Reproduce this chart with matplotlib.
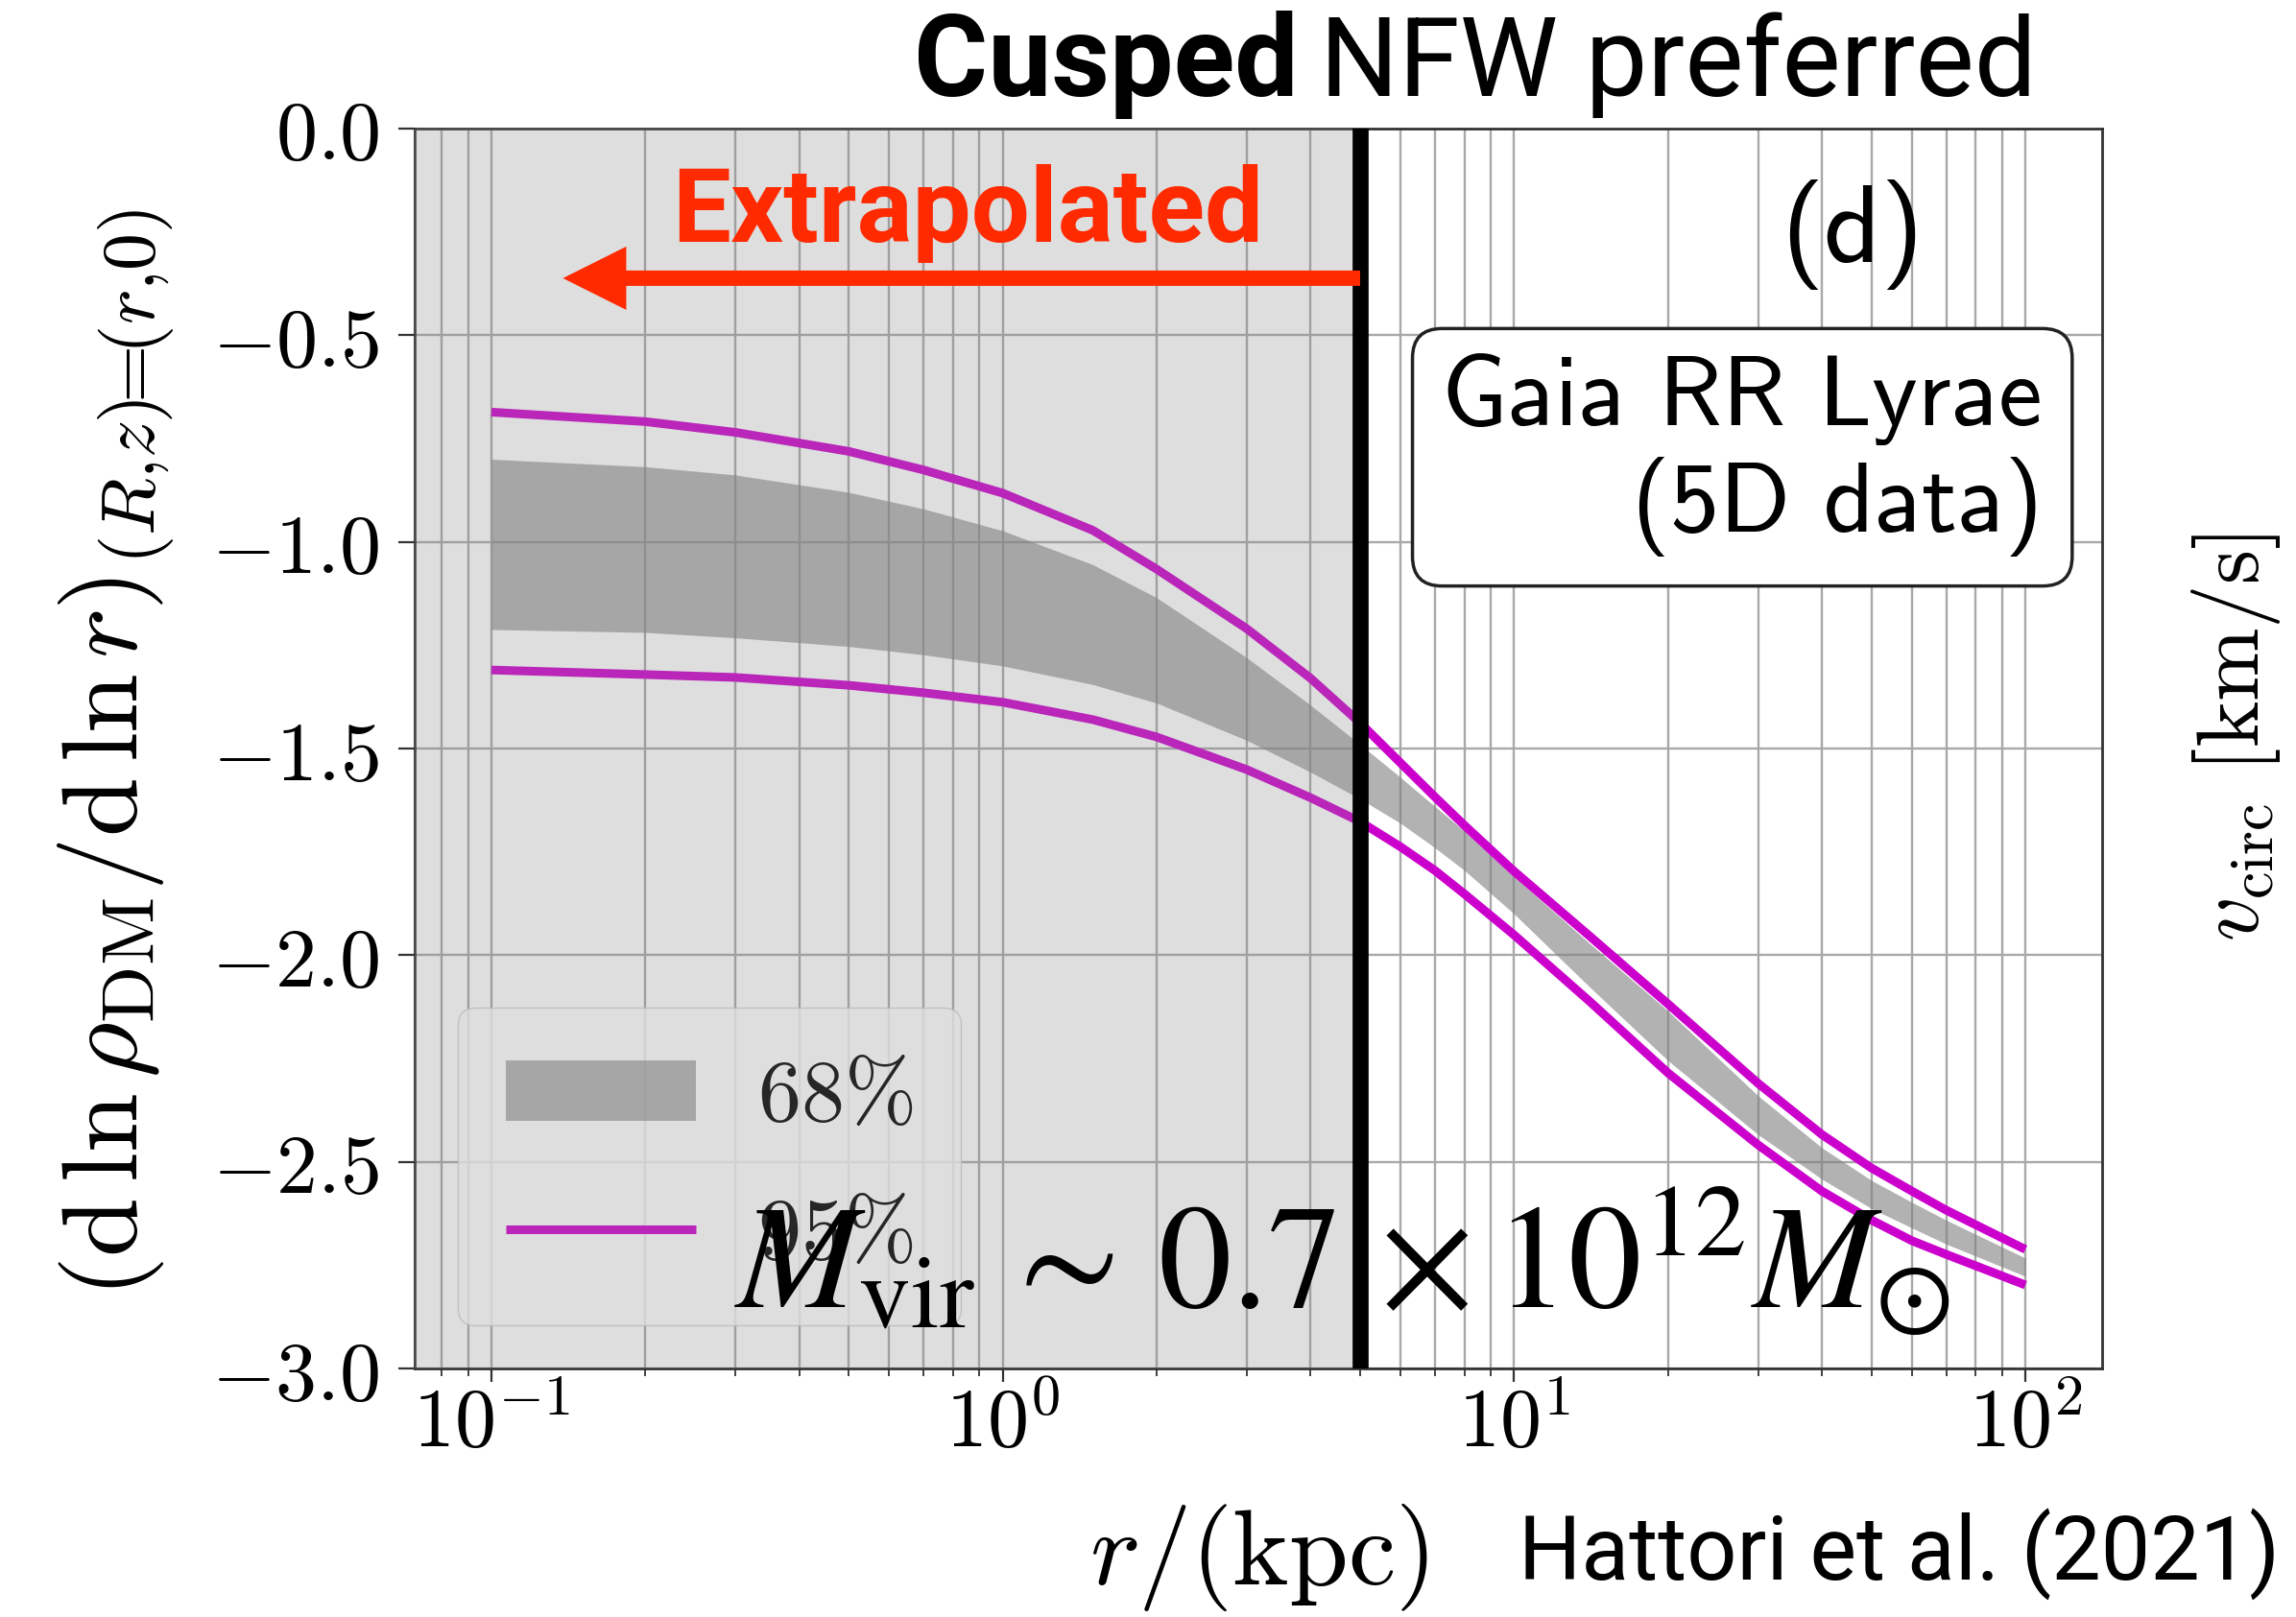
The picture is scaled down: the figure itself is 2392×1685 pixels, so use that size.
import matplotlib
matplotlib.use("Agg")
import matplotlib.pyplot as plt
import numpy as np
from matplotlib.ticker import FixedLocator, NullFormatter

# ---------------- data ----------------
r_kpc = [0.1, 0.2, 0.3, 0.5, 0.7, 1.0, 1.5, 2, 3, 4, 5, 6, 7, 8, 10, 14, 20, 30, 40, 50, 60, 70, 100]
upper95 = [-0.686, -0.709, -0.735, -0.781, -0.826, -0.882, -0.972, -1.066, -1.210, -1.330, -1.438,
           -1.535, -1.617, -1.686, -1.797, -1.952, -2.118, -2.310, -2.434, -2.515, -2.571, -2.617, -2.712]
lower95 = [-1.310, -1.321, -1.328, -1.347, -1.365, -1.388, -1.430, -1.472, -1.551, -1.619, -1.677,
           -1.738, -1.795, -1.852, -1.951, -2.110, -2.285, -2.459, -2.571, -2.641, -2.691, -2.724, -2.798]
upper68 = [-0.800, -0.818, -0.838, -0.880, -0.920, -0.973, -1.055, -1.135, -1.280, -1.395, -1.490,
           -1.570, -1.640, -1.700, -1.810, -1.970, -2.135, -2.340, -2.466, -2.545, -2.598, -2.641, -2.733]
lower68 = [-1.212, -1.219, -1.232, -1.253, -1.273, -1.300, -1.345, -1.390, -1.480, -1.557, -1.622,
           -1.681, -1.740, -1.795, -1.900, -2.075, -2.255, -2.434, -2.542, -2.613, -2.660, -2.699, -2.777]
legend_labels = ["68%", "95%"]
r_boundary = 5.0
yticks = [0.0, -0.5, -1.0, -1.5, -2.0, -2.5, -3.0]
ytick_labels = ["0.0", "-0.5", "-1.0", "-1.5", "-2.0", "-2.5", "-3.0"]
xticks = [0.1, 1, 10, 100]
xtick_labels = ["10^{-1}", "10^{0}", "10^{1}", "10^{2}"]
arrow_tip_r = 0.138
arrow_y = -0.362

W, H = 2392, 1685
plt.rcParams["mathtext.fontset"] = "cm"

fig = plt.figure(figsize=(W / 100, H / 100), dpi=100)


def fx(px):
    return px / W


def fy(py):
    return 1 - py / H


ax = fig.add_axes([fx(432), fy(1426), fx(2190) - fx(432), fy(134) - fy(1426)])
ax.set_xscale("log")
ax.set_axisbelow(True)

MAG = "#cc00cc"
# band and lines
band = ax.fill_between(r_kpc, lower68, upper68, color="gray", alpha=0.6, lw=0,
                       label="$" + legend_labels[0].replace("%", r"\%") + "$", zorder=2)
ax.plot(r_kpc, upper95, color=MAG, lw=6.5, zorder=3, solid_capstyle="butt",
        solid_joinstyle="round", label="$" + legend_labels[1].replace("%", r"\%") + "$")
ax.plot(r_kpc, lower95, color=MAG, lw=6.5, zorder=3, solid_capstyle="butt",
        solid_joinstyle="round")

xlo = r_kpc[0] / 10 ** 0.15
xhi = r_kpc[-1] * 10 ** 0.15
ax.set_xlim(xlo, xhi)
ax.set_ylim(yticks[-1], yticks[0])

# grid
ax.grid(True, which="both", axis="x", color="#a8a8a8", lw=1.7)
ax.grid(True, which="major", axis="y", color="#a8a8a8", lw=1.7)

# ticks
ax.yaxis.set_major_locator(FixedLocator(yticks))
ax.set_yticklabels(["$" + s + "$" for s in ytick_labels])
ax.xaxis.set_major_locator(FixedLocator(xticks))
ax.set_xticklabels(["$" + s + "$" for s in xtick_labels])
ax.xaxis.set_minor_formatter(NullFormatter())
ax.tick_params(axis="both", which="major", labelsize=62, direction="out", width=1.6, color="#333333")
ax.tick_params(axis="y", which="major", length=12, pad=14)
ax.tick_params(axis="x", which="major", length=10, pad=2)
ax.tick_params(axis="x", which="minor", length=6, width=1.3, color="#333333", direction="out")
for sp in ax.spines.values():
    sp.set_color("#333333")
    sp.set_linewidth(2.0)

# legend
leg = ax.legend(loc="lower left", fontsize=65, framealpha=0.8, handlelength=2.2,
                labelspacing=0.62, borderpad=0.55, handletextpad=0.7)
leg.set_zorder(5)

# extrapolated overlay
ax.axvspan(xlo, r_boundary, color="#8a8a8a", alpha=0.28, lw=0, zorder=6)
ax.axvline(r_boundary, color="black", lw=12, zorder=7)

# arrow
ax.annotate("", xy=(arrow_tip_r, arrow_y), xytext=(r_boundary, arrow_y),
            arrowprops=dict(arrowstyle="simple,head_length=0.66,head_width=0.66,tail_width=0.16",
                            mutation_scale=72, color="#ff2a00", lw=0, shrinkA=0, shrinkB=0),
            zorder=8)
fig.text(fx(700), fy(252), "Extrapolated", color="#ff2a00", fontsize=78, fontweight="bold",
         family="Roboto", ha="left", va="baseline", zorder=10)

# annotations
fig.text(fx(1930), fy(245), "(d)", family="cmss10", fontsize=83, ha="center", va="center")
fig.text(fx(2128), fy(474), "Gaia RR Lyrae\n(5D data)", family="cmss10", fontsize=74,
         ha="right", va="center", multialignment="right", linespacing=1.15,
         bbox=dict(boxstyle="round,pad=0.3", fc="white", ec="#222222", lw=2.5))

fig.text(fx(765), fy(1363), r"$M_{\rm vir}\,\sim\,0.7\,\times 10^{12}M_{\odot}$",
         math_fontfamily="stix", fontsize=110, ha="left", va="baseline", zorder=20)

# axis labels
fig.text(fx(185), fy(785),
         r"$\left(\mathrm{d}\,\ln\rho_{\rm DM}/\mathrm{d}\,\ln r\right)_{(R{,}z)\!\!=\!\!(r{,}0)}$",
         rotation=90, rotation_mode="anchor", ha="center", va="bottom", fontsize=80)
fig.text(fx(1311), fy(1623), r"$r/(\mathrm{kpc})$", ha="center", va="center", fontsize=80)
fig.text(fx(2330), fy(768), r"$v_{\rm circ}\ [\mathrm{km/s}]$", rotation=90,
         ha="center", va="center", fontsize=66)

# title pieces
t2 = fig.text(fx(2122), fy(100), "NFW preferred", family="Roboto", fontsize=83,
              ha="right", va="baseline")
fig.canvas.draw()
bb = t2.get_window_extent()
fig.text(bb.x0 / W - 22 / W, fy(100), "Cusped", family="Roboto", fontweight="bold",
         fontsize=85, ha="right", va="baseline")

fig.text(fx(2375), fy(1646), "Hattori et al. (2021)", family="Roboto", fontsize=66,
         ha="right", va="baseline")

fig.savefig("out.png", dpi=100)
